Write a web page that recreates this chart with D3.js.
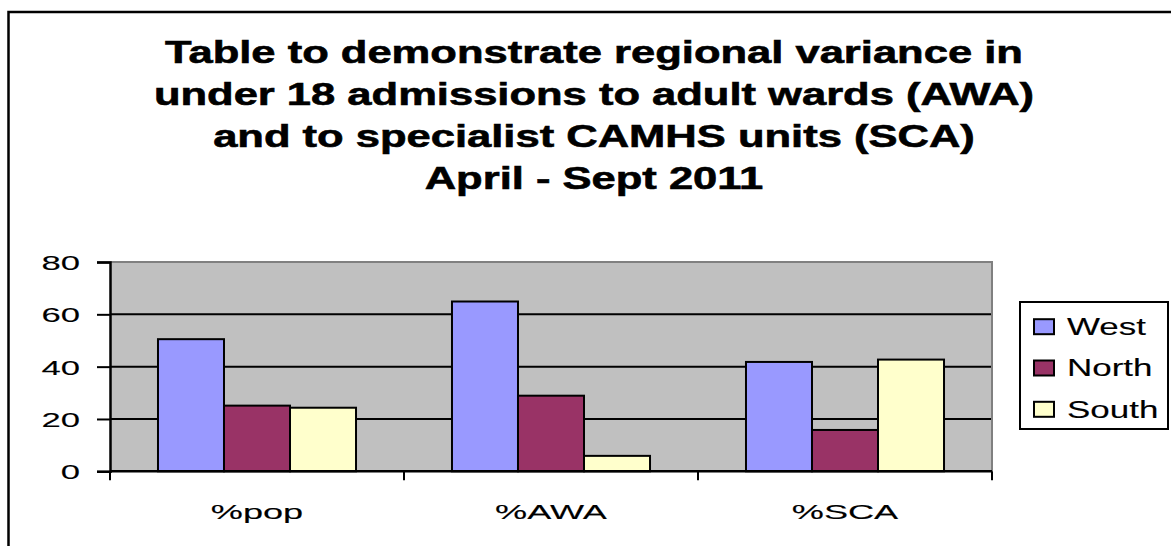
<!DOCTYPE html>
<html>
<head>
<meta charset="utf-8">
<script src="https://cdn.jsdelivr.net/npm/d3@7"></script>
<style>
  body { margin: 0; background: #fff; }
  svg text { font-family: "Liberation Sans", Arial, sans-serif; fill: #000; }
</style>
</head>
<body>
<div id="chart"></div>
<script>
const categories = ['%pop', '%AWA', '%SCA'];
const regions = ['West', 'North', 'South'];
const west = [50.5, 64.9, 41.8];
const north = [25.1, 28.9, 15.8];
const south = [24.3, 5.9, 42.7];
const yTicks = [0, 20, 40, 60, 80];
const titleLines = [
  'Table to demonstrate regional variance in',
  'under 18 admissions to adult wards (AWA)',
  'and to specialist CAMHS units (SCA)',
  'April - Sept 2011'
];

const colors = { West: '#9999ff', North: '#993366', South: '#ffffcc' };
const width = 1171, height = 546;
const plot = { left: 110, top: 262, right: 992, bottom: 471.3 };

const series = regions.map((r, i) => ({ name: r, values: [west, north, south][i] }));

// stretch a text node horizontally, like the wide-rendered fonts of the original
function stretch(sel, k) {
  sel.each(function () {
    const w = this.getComputedTextLength();
    d3.select(this).attr('textLength', w * k).attr('lengthAdjust', 'spacingAndGlyphs');
  });
}

const svg = d3.select('#chart').append('svg')
  .attr('width', width)
  .attr('height', height);

// outer frame (runs off the right and bottom edge)
svg.append('rect')
  .attr('x', 8.5).attr('y', 12)
  .attr('width', 1300).attr('height', 700)
  .attr('fill', 'none').attr('stroke', '#000').attr('stroke-width', 2.5);

// title
svg.append('g').selectAll('text')
  .data(titleLines)
  .enter().append('text')
  .attr('x', 594)
  .attr('y', (d, i) => 63 + i * 42)
  .attr('text-anchor', 'middle')
  .style('font-size', '32px')
  .style('font-weight', 'bold')
  .style('stroke', '#000')
  .style('stroke-width', 0.6)
  .text(d => d)
  .call(stretch, 1.36);

const x0 = d3.scaleBand()
  .domain(categories)
  .range([plot.left, plot.right]);

const x1 = d3.scaleBand()
  .domain(regions)
  .range([0, x0.bandwidth()])
  .paddingOuter(0.727);

const y = d3.scaleLinear()
  .domain([0, 80])
  .range([plot.bottom, plot.top]);

// plot background
svg.append('rect')
  .attr('x', plot.left).attr('y', y(80))
  .attr('width', plot.right - plot.left).attr('height', y(0) - y(80))
  .attr('fill', '#c0c0c0');

// gridlines
svg.append('g').selectAll('line')
  .data(yTicks.filter(t => t > 0 && t < 80))
  .enter().append('line')
  .attr('x1', plot.left).attr('x2', plot.right)
  .attr('y1', d => y(d)).attr('y2', d => y(d))
  .attr('stroke', '#000').attr('stroke-width', 2);

// plot border top/right in grey
svg.append('path')
  .attr('d', `M${plot.left},${y(80)}H${plot.right}V${y(0)}`)
  .attr('fill', 'none').attr('stroke', '#808080').attr('stroke-width', 2);

// bars
const groups = svg.append('g').selectAll('g')
  .data(series)
  .enter().append('g')
  .attr('fill', d => colors[d.name]);

groups.selectAll('rect')
  .data(d => d.values.map((v, i) => ({ cat: categories[i], name: d.name, value: v })))
  .enter().append('rect')
  .attr('x', d => x0(d.cat) + x1(d.name))
  .attr('y', d => y(d.value))
  .attr('width', x1.bandwidth())
  .attr('height', d => y(0) - y(d.value))
  .attr('stroke', '#000')
  .attr('stroke-width', 2);

// y axis
const yAxis = svg.append('g')
  .attr('transform', `translate(${plot.left},0)`)
  .call(d3.axisLeft(y).tickValues(yTicks).tickSize(13).tickPadding(17));
yAxis.select('.domain').attr('stroke', '#000').attr('stroke-width', 2.5);
yAxis.selectAll('.tick line').attr('stroke', '#000').attr('stroke-width', 2);
yAxis.selectAll('.tick text')
  .style('font-size', '21px')
  .style('stroke', '#000')
  .style('stroke-width', 0.12)
  .attr('dy', '0.36em')
  .call(stretch, 1.65);

// x axis, ticks between categories
const xAxis = svg.append('g')
  .attr('transform', `translate(0,${plot.bottom})`);
xAxis.append('line')
  .attr('x1', plot.left).attr('x2', plot.right)
  .attr('stroke', '#000').attr('stroke-width', 2.5);
xAxis.selectAll('line.tick')
  .data(categories.concat(['end']))
  .enter().append('line')
  .attr('class', 'tick')
  .attr('x1', d => d === 'end' ? plot.right : x0(d))
  .attr('x2', d => d === 'end' ? plot.right : x0(d))
  .attr('y1', 0).attr('y2', 9)
  .attr('stroke', '#000').attr('stroke-width', 2);
xAxis.selectAll('text')
  .data(categories)
  .enter().append('text')
  .attr('x', d => x0(d) + x0.bandwidth() / 2)
  .attr('y', 48)
  .attr('text-anchor', 'middle')
  .style('font-size', '21px')
  .style('stroke', '#000')
  .style('stroke-width', 0.12)
  .text(d => d)
  .call(stretch, 1.72);

// legend
const legend = svg.append('g').attr('transform', 'translate(1020,302)');
legend.append('rect')
  .attr('width', 148).attr('height', 127)
  .attr('fill', '#fff').attr('stroke', '#000').attr('stroke-width', 2);
const items = legend.selectAll('g.item')
  .data(regions)
  .enter().append('g')
  .attr('class', 'item')
  .attr('transform', (d, i) => `translate(0,${24.7 + i * 41.3})`);
items.append('rect')
  .attr('x', 14).attr('y', -7.5)
  .attr('width', 20).attr('height', 15)
  .attr('fill', d => colors[d])
  .attr('stroke', '#000').attr('stroke-width', 2);
items.append('text')
  .attr('x', 47).attr('y', 8.3)
  .style('font-size', '23px')
  .style('stroke', '#000')
  .style('stroke-width', 0.12)
  .text(d => d)
  .call(stretch, 1.52);
</script>
</body>
</html>
